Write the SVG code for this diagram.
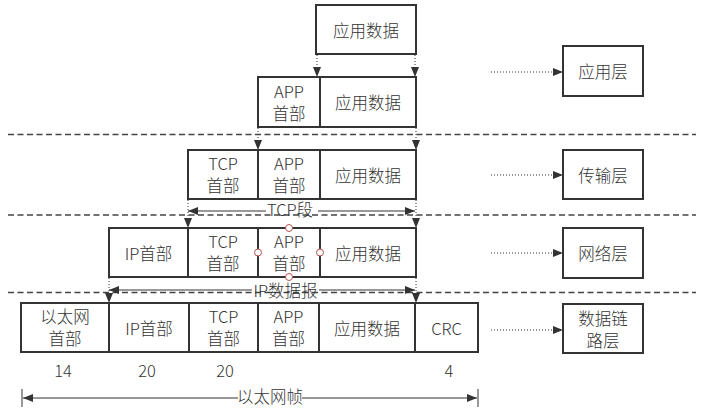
<svg xmlns="http://www.w3.org/2000/svg" width="703" height="417" viewBox="0 0 703 417">
<style>
  .box { fill: #fff; stroke: #333; stroke-width: 2; }
  .t { font-family: "Noto Sans CJK SC", "Noto Sans", sans-serif; font-size: 16.5px; font-weight: 300; fill: #333; text-anchor: middle; dominant-baseline: central; }
  .dash { stroke: #444; stroke-width: 1.3; stroke-dasharray: 6 3.5; fill: none; }
  .dot { stroke: #333; stroke-width: 1; stroke-dasharray: 1 2; fill: none; }
  .solid { stroke: #333; stroke-width: 1; fill: none; }
  .handle { fill: #fff; stroke: #b85450; stroke-width: 1; }
</style>
<defs>
  <marker id="ah" viewBox="0 0 10 8" refX="10" refY="4" markerWidth="11" markerHeight="8" markerUnits="userSpaceOnUse" orient="auto">
    <path d="M0,0 L10,4 L0,8 Z" fill="#333"/>
  </marker>
  <marker id="ahs" viewBox="0 0 10 8" refX="0" refY="4" markerWidth="11" markerHeight="8" markerUnits="userSpaceOnUse" orient="auto">
    <path d="M10,0 L0,4 L10,8 Z" fill="#333"/>
  </marker>
</defs>
<rect width="703" height="417" fill="#fff"/>

<g id="layer-separators">
  <line class="dash" x1="8" y1="134.5" x2="696" y2="134.5"/>
  <line class="dash" x1="8" y1="215" x2="696" y2="215"/>
  <line class="dash" x1="8" y1="292.5" x2="696" y2="292.5"/>
</g>

<g id="row1">
  <rect class="box" x="316" y="5" width="100" height="49"/>
  <text class="t" x="366" y="30">应用数据</text>
</g>

<g id="row2">
  <rect class="box" x="258" y="77" width="62" height="50"/>
  <text class="t" x="289" y="91">APP</text>
  <text class="t" x="289" y="113">首部</text>
  <rect class="box" x="320" y="77" width="96" height="50"/>
  <text class="t" x="368" y="102">应用数据</text>
</g>

<g id="row3">
  <rect class="box" x="188" y="150" width="70" height="49"/>
  <text class="t" x="223" y="163">TCP</text>
  <text class="t" x="223" y="185">首部</text>
  <rect class="box" x="258" y="150" width="62" height="49"/>
  <text class="t" x="289" y="163">APP</text>
  <text class="t" x="289" y="185">首部</text>
  <rect class="box" x="320" y="150" width="96" height="49"/>
  <text class="t" x="368" y="175">应用数据</text>
</g>

<g id="row4">
  <rect class="box" x="109" y="228" width="79" height="49"/>
  <text class="t" x="148.5" y="252.5">IP首部</text>
  <rect class="box" x="188" y="228" width="70" height="49"/>
  <text class="t" x="223" y="241">TCP</text>
  <text class="t" x="223" y="263">首部</text>
  <rect class="box" x="258" y="228" width="62" height="49"/>
  <text class="t" x="289" y="241">APP</text>
  <text class="t" x="289" y="263">首部</text>
  <rect class="box" x="320" y="228" width="96" height="49"/>
  <text class="t" x="368" y="252.5">应用数据</text>
  <circle class="handle" cx="289" cy="228" r="3.5"/>
  <circle class="handle" cx="258" cy="252.5" r="3.5"/>
  <circle class="handle" cx="320" cy="252.5" r="3.5"/>
  <circle class="handle" cx="289" cy="277" r="3.5"/>
</g>

<g id="row5">
  <rect class="box" x="21" y="303" width="88" height="49"/>
  <text class="t" x="65" y="316">以太网</text>
  <text class="t" x="65" y="338">首部</text>
  <rect class="box" x="109" y="303" width="80" height="49"/>
  <text class="t" x="149" y="327.5">IP首部</text>
  <rect class="box" x="189" y="303" width="69" height="49"/>
  <text class="t" x="223.5" y="316">TCP</text>
  <text class="t" x="223.5" y="338">首部</text>
  <rect class="box" x="258" y="303" width="61" height="49"/>
  <text class="t" x="288.5" y="316">APP</text>
  <text class="t" x="288.5" y="338">首部</text>
  <rect class="box" x="319" y="303" width="96" height="49"/>
  <text class="t" x="367" y="327.5">应用数据</text>
  <rect class="box" x="415" y="303" width="63" height="49"/>
  <text class="t" x="446.5" y="327.5">CRC</text>
</g>

<g id="sizes">
  <text class="t" x="63" y="370">14</text>
  <text class="t" x="147" y="370">20</text>
  <text class="t" x="225" y="370">20</text>
  <text class="t" x="449" y="370">4</text>
</g>

<g id="layer-app">
  <rect class="box" x="563" y="46" width="80" height="50"/>
  <text class="t" x="603" y="71">应用层</text>
</g>
<g id="layer-transport">
  <rect class="box" x="563" y="150" width="80" height="49"/>
  <text class="t" x="603" y="175">传输层</text>
</g>
<g id="layer-network">
  <rect class="box" x="563" y="228" width="80" height="50"/>
  <text class="t" x="603" y="253">网络层</text>
</g>
<g id="layer-link">
  <rect class="box" x="563" y="304" width="80" height="49"/>
  <text class="t" x="603" y="318">数据链</text>
  <text class="t" x="603" y="340">路层</text>
</g>

<g id="connectors">
  <line class="dot" x1="317" y1="55" x2="317" y2="77" marker-end="url(#ah)"/>
  <line class="dot" x1="415" y1="55" x2="415" y2="77" marker-end="url(#ah)"/>
  <line class="dot" x1="258" y1="128" x2="258" y2="150" marker-end="url(#ah)"/>
  <line class="dot" x1="416" y1="128" x2="416" y2="150" marker-end="url(#ah)"/>
  <line class="dot" x1="188" y1="200" x2="188" y2="228" marker-end="url(#ah)"/>
  <line class="dot" x1="416" y1="200" x2="416" y2="228" marker-end="url(#ah)"/>
  <line class="dot" x1="109" y1="278" x2="109" y2="303" marker-end="url(#ah)"/>
  <line class="dot" x1="416" y1="278" x2="416" y2="303" marker-end="url(#ah)"/>

  <line class="dot" x1="491" y1="72" x2="563" y2="72" marker-end="url(#ah)"/>
  <line class="dot" x1="491" y1="175" x2="563" y2="175" marker-end="url(#ah)"/>
  <line class="dot" x1="491" y1="253" x2="563" y2="253" marker-end="url(#ah)"/>
  <line class="dot" x1="491" y1="330" x2="563" y2="330" marker-end="url(#ah)"/>

  <line class="solid" x1="188" y1="211" x2="266" y2="211" marker-start="url(#ahs)"/>
  <line class="solid" x1="318" y1="211" x2="415" y2="211" marker-end="url(#ah)"/>
  <text class="t" x="290" y="209">TCP段</text>

  <line class="solid" x1="109" y1="290" x2="252" y2="290" marker-start="url(#ahs)"/>
  <line class="solid" x1="319" y1="290" x2="415" y2="290" marker-end="url(#ah)"/>
  <text class="t" x="285.5" y="290">IP数据报</text>

  <line class="solid" x1="22" y1="389" x2="22" y2="407"/>
  <line class="solid" x1="478" y1="389" x2="478" y2="407"/>
  <line class="solid" x1="23" y1="398" x2="238" y2="398" marker-start="url(#ahs)"/>
  <line class="solid" x1="302" y1="398" x2="477" y2="398" marker-end="url(#ah)"/>
  <text class="t" x="270" y="396">以太网帧</text>
</g>
</svg>
